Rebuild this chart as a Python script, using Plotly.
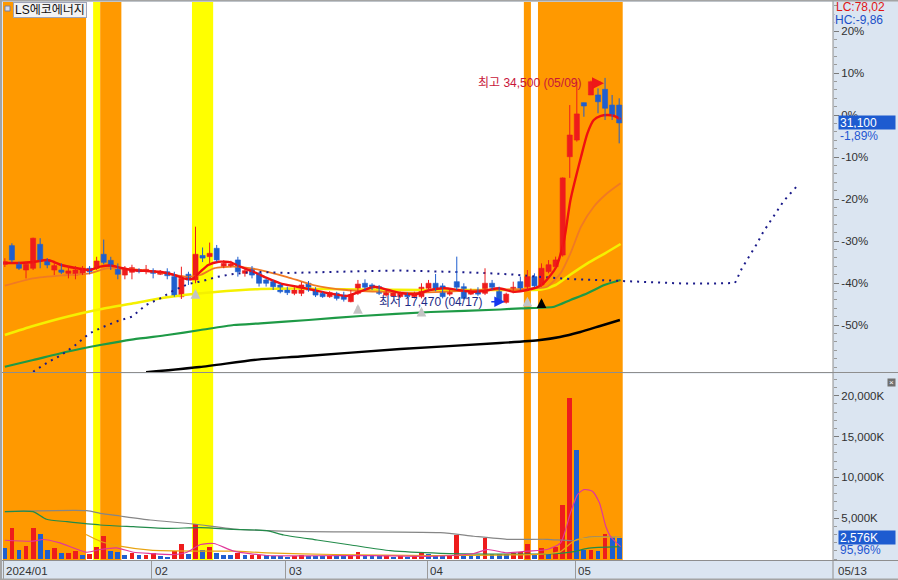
import plotly.graph_objects as go

# ---------------- data ----------------
stock_name = "LS에코에너지"
prev_close = 31700          # 0% level of the right-hand percent axis
last_close = 31100
last_volume_k = 2576
volume_ratio_text = "95,96%"
lc_text = "LC:78,02"
hc_text = "HC:-9,86"
high_price, high_day, high_date = 34500, 85, "05/09"
low_price, low_day, low_date = 17470, 71, "04/17"

month_labels = ["2024/01", "02", "03", "04", "05"]
month_start = [0, 21, 40, 60, 81]
last_date_label = "05/13"

open_ = [20430, 21840, 20430, 20000, 20130, 21940, 20760, 20000, 20000, 19750,
         19620, 19680, 20130, 20130, 21190, 20730, 20130, 19620, 19830, 20030,
         19900, 19950, 19680, 19870, 19500, 17980, 19680, 19250, 21100, 21010,
         21640, 20250, 20300, 20760, 19750, 20130, 19750, 19250, 19120, 18870,
         18540, 18240, 18240, 19000, 18540, 18240, 17990, 18240, 18110, 17610,
         18240, 19000, 18870, 18740, 18110, 18040, 17990, 18180, 17990, 17990,
         18620, 19000, 18800, 18180, 19120, 18740, 18180, 18490, 18240, 19000,
         18540, 17560, 18360, 19120, 18740, 19500, 18870, 19880, 20250, 21130,
         28550, 29810, 32630, 33210, 33210, 33640, 32450, 32450]
high = [20890, 22020, 20630, 20630, 22440, 22400, 20900, 20580, 20500, 20300,
        20300, 20300, 20300, 21000, 22300, 21000, 20500, 20300, 20400, 20130,
        20380, 20130, 20000, 20130, 19870, 20250, 19870, 23270, 21700, 22070,
        21890, 20750, 20700, 21000, 20130, 20300, 19870, 19370, 19250, 19000,
        18740, 18700, 19100, 19170, 18700, 18360, 18400, 18360, 18360, 18490,
        19250, 19300, 19000, 18870, 18490, 18400, 18360, 18300, 18360, 19000,
        19250, 19700, 19000, 18600, 21010, 19000, 18600, 18700, 20130, 19250,
        18740, 18290, 19120, 19500, 20000, 19750, 20500, 20750, 21010, 26990,
        32450, 34210, 32630, 34300, 33710, 34500, 33210, 32960]
low = [20230, 20580, 20000, 19370, 20000, 20130, 20130, 19620, 19700, 19370,
       19300, 19620, 19680, 20000, 20430, 20000, 19300, 19300, 19300, 19750,
       19680, 19370, 19620, 19300, 17980, 17810, 18870, 19000, 20600, 20500,
       20630, 20130, 20200, 19500, 19500, 19370, 18750, 18750, 18490, 18240,
       18110, 18100, 18030, 18360, 17960, 17900, 17900, 17700, 17620, 17560,
       18110, 18490, 18490, 18110, 18000, 17960, 17900, 17900, 17860, 17860,
       18360, 18400, 17860, 18050, 18490, 17790, 18110, 18050, 18110, 18490,
       17560, 17470, 18240, 18490, 18490, 18700, 18740, 19750, 20130, 21010,
       26950, 29690, 31570, 33210, 31830, 31320, 31320, 29560]
close = [20630, 20760, 20130, 20430, 22400, 20760, 20380, 20330, 19830, 19930,
         20000, 20130, 19870, 20680, 20580, 20280, 19680, 20080, 20180, 19880,
         20050, 19750, 19870, 19570, 18060, 19370, 19250, 21190, 20900, 21260,
         20760, 20500, 20450, 19870, 19950, 19620, 19000, 19000, 18740, 18360,
         18290, 18490, 18870, 18490, 18110, 17990, 18290, 17860, 17790, 18110,
         18940, 18700, 18620, 18240, 18360, 18290, 18240, 17990, 18240, 18700,
         19000, 18540, 17990, 18420, 18700, 17860, 18360, 18180, 19000, 18700,
         17680, 18180, 18700, 18620, 19500, 18800, 20130, 20400, 20760, 26950,
         30190, 31780, 32380, 34210, 32700, 32210, 31700, 31100]
volume_k = [1290, 3740, 1080, 1570, 3760, 3120, 1160, 1370, 760, 780,
            1040, 550, 670, 1490, 2880, 960, 830, 550, 760, 430,
            550, 760, 340, 270, 960, 1780, 670, 4350, 1080, 1490,
            760, 550, 540, 760, 430, 440, 450, 430, 340, 330,
            270, 380, 520, 420, 400, 330, 420, 350, 330, 450,
            800, 520, 380, 340, 360, 300, 320, 280, 350, 680,
            560, 480, 400, 420, 2940, 490, 480, 400, 2530, 610,
            600, 590, 730, 820, 1840, 490, 1310, 730, 1430, 6620,
            19720, 13390, 1100, 1120, 1020, 3060, 2860, 2576]

# highlighted day ranges (start day, end day, kind)
band_start = [0, 13, 14, 27, 74, 76]
band_end = [11, 13, 16, 29, 74, 87]
band_kind = ["o", "y", "o", "y", "o", "o"]

# signal arrows (day, price at arrow tip)
sig_gray_day = [27, 50, 59, 74]
sig_gray_price = [18566, 17434, 17231, 17985]
sig_black_day = [76]
sig_black_price = [17864]

# price moving-average lines, sampled (day, price)
ma_red_x = [0, 2, 4, 6, 7, 8, 10, 12, 13.5, 15, 16.3, 18, 20, 22, 24, 25.3, 26.5, 27.7, 28.8, 30.3,
            32, 33.3, 35.2, 37, 39, 41.4, 43.7, 46, 48.4, 50.3, 52.3, 54.3, 56.3, 58.3, 60.2, 62.2,
            64.2, 66, 68, 70, 72, 74, 76, 78, 79.2, 80.1, 81.6, 82.5, 83.4, 84.4, 85.3, 86.3, 87.2]
ma_red_y = [20529, 20529, 20604, 20755, 20604, 20378, 20151, 20000, 20250, 20340, 20174, 20000,
            19925, 19872, 19623, 19374, 19321, 19872, 20378, 20627, 20582, 20250, 19872, 19419,
            18996, 18740, 18491, 18242, 18038, 18362, 18740, 18491, 18242, 18189, 18491, 18619,
            18491, 18362, 18438, 18619, 18362, 18491, 18868, 20151, 22265, 25284, 28552, 30319,
            31323, 31625, 31700, 31625, 31375]
ma_orange_x = [0, 4, 8.8, 12, 14.4, 16.3, 19.2, 22.9, 25.8, 27.7, 29.6, 32.4, 36.2, 40, 43.7, 48.4,
               53.2, 57.9, 62.6, 67.4, 72.1, 75, 76.8, 78.7, 80.1, 81.6, 83.4, 85.3, 87.2]
ma_orange_y = [18816, 19374, 19623, 19751, 20129, 20129, 20000, 19751, 19495, 19623, 20129, 20250,
               20000, 19472, 18868, 18491, 18362, 18286, 18362, 18491, 18544, 18619, 18740, 19751,
               21261, 23269, 24778, 25790, 26544]
ma_yellow_x = [0, 4, 8.8, 13.5, 18.2, 23, 26.7, 31.4, 36.2, 41, 50, 60, 70, 74, 76, 78, 80, 82.5, 85, 87.2]
ma_yellow_y = [15094, 15774, 16476, 17034, 17487, 17940, 18189, 18415, 18566, 18603, 18528, 18491,
               18491, 18491, 18528, 18868, 19623, 20506, 21261, 21963]
ma_green_x = [0, 4, 8.8, 13.5, 18.2, 23, 27.7, 32.4, 36.2, 43, 50.4, 60.3, 70.2, 73.1, 77.8, 80.1,
              82.5, 84.9, 87.2]
ma_green_y = [12701, 13207, 13834, 14339, 14770, 15094, 15472, 15849, 15977, 16226, 16528, 16830,
              17019, 17110, 17231, 17736, 18242, 18868, 19246]
ma_black_x = [20, 27.6, 36.1, 41.8, 56, 70.1, 75.8, 78.6, 81.5, 84.3, 87.1]
ma_black_y = [12279, 12679, 13260, 13471, 14037, 14490, 14717, 14943, 15321, 15774, 16226]
lead_x = [4, 6, 8, 10, 12, 14, 16, 18, 20, 22, 24, 26, 28, 30, 32, 34, 36, 40, 44, 48, 52, 56, 60,
          64, 68, 72, 76, 80, 84, 88, 92, 96, 100, 103.4, 104.4, 105.4, 106.4, 107.4, 108.4, 109.4,
          110.3, 111.3, 112.2]
lead_y = [12324, 13003, 13585, 14339, 15223, 15721, 16151, 16476, 17359, 17864, 18491, 18944, 19170,
          19472, 19676, 19797, 19849, 19774, 19827, 19849, 19925, 19962, 19925, 19849, 19774, 19661,
          19472, 19321, 19246, 19170, 19057, 18982, 18982, 19019, 20151, 20982, 21888, 22869, 23699,
          24529, 25208, 25812, 26341]

# volume moving-average lines, sampled (day, thousand shares)
vma_pink_x = [0, 4, 5.4, 7.8, 11.6, 13.5, 15.8, 18.2, 20.6, 23.9, 25.8, 27.7, 29.6, 32.4, 37.1, 44,
              52, 60.8, 66.4, 68.3, 71.1, 74, 76.8, 78.7, 80.1, 81.1, 82, 83.2, 84.2, 85.1, 85.8, 87.2]
vma_pink_y = [2300, 2180, 2390, 1980, 830, 1160, 1370, 830, 670, 550, 830, 1780, 1900, 960, 430, 400,
              420, 340, 670, 1160, 760, 960, 1160, 1980, 5660, 7900, 8510, 8300, 6880, 4020, 2730, 1510]
vma_orange_x = [11.5, 13.5, 16.3, 20.6, 27.7, 32.4, 37.1, 46.6, 60.8, 70, 76, 78.7, 80.1, 81.1, 83, 87.2]
vma_orange_y = [3000, 2180, 1570, 1080, 960, 960, 760, 550, 430, 480, 600, 900, 1900, 2400, 2600, 2700]
vma_green_x = [0, 4, 5.9, 8.8, 13.5, 18.2, 23, 27.7, 32.4, 37.1, 39.5, 44.2, 49, 54.6, 61.7, 76.8,
               80.6, 82.5, 87.2]
vma_green_y = [5800, 5800, 4865, 4571, 4167, 3958, 3762, 3836, 3640, 3468, 2941, 2328, 1716, 1017,
               700, 613, 895, 1311, 1507]
vma_gray_x = [0, 11.6, 13.5, 16.3, 20.6, 26.7, 32.4, 37.1, 43, 61.7, 66.4, 71.1, 76.8, 80.6, 82.5, 87.2]
vma_gray_y = [5800, 5920, 5600, 5270, 4780, 4290, 3677, 3468, 3346, 3223, 2790, 2414, 2414, 2243,
              2660, 2733]

pct_ticks = [20, 10, 0, -10, -20, -30, -40, -50]
vol_ticks_k = [5000, 10000, 15000, 20000]

# ---------------- layout geometry ----------------
W, H = 898, 580
ML, MR, MT, MB = 3, 65, 2, 20
PW, PH = W - ML - MR, H - MT - MB


def pxx(p):
    return (p - ML) / PW


def pxy(p):
    return (H - MB - p) / PH


X_RANGE = [-0.262, 117.28]
PRICE_RANGE = [prev_close * (1 + (115 - 372) / 420), prev_close * (1 + (115 - 2) / 420)]
VOL_RANGE = [-122.55, (559 - 373.5) * 122.55]
MAIN_DOMAIN = [pxy(372), 1.0]
VOL_DOMAIN = [0.0, pxy(373.5)]

RED, BLUE = "#ee1c1c", "#1f5fcf"
ORANGE_BAND, YELLOW_BAND = "#ff9900", "#ffff00"
PANEL = "#dbe5f1"
FONT = "Liberation Sans, Noto Sans CJK KR, sans-serif"

fig = go.Figure()

# price lines (under candles)
line_specs = [
    (ma_black_x, ma_black_y, "#000000", 2.4, None),
    (ma_green_x, ma_green_y, "#1e9a46", 2.2, None),
    (ma_yellow_x, ma_yellow_y, "#f5f000", 2.6, None),
    (ma_orange_x, ma_orange_y, "#f07a24", 1.8, None),
    (lead_x, lead_y, "#1b1b8a", 2.0, "2px,5px"),
    (ma_red_x, ma_red_y, "#f01010", 2.4, None),
]
for xs, ys, col, w, dash in line_specs:
    fig.add_trace(go.Scatter(x=xs, y=ys, mode="lines",
                             line=dict(color=col, width=w, dash=dash,
                                       shape="linear" if dash else "spline", smoothing=0.6),
                             hoverinfo="skip", xaxis="x", yaxis="y"))

# candles
n = len(close)
for is_up, col in ((True, RED), (False, BLUE)):
    ids = [i for i in range(n) if (close[i] >= open_[i]) == is_up]
    wx, wy = [], []
    for i in ids:
        wx += [i, i, None]
        wy += [low[i], high[i], None]
    fig.add_trace(go.Scatter(x=wx, y=wy, mode="lines", line=dict(color=col, width=1),
                             hoverinfo="skip", xaxis="x", yaxis="y"))
    fig.add_trace(go.Bar(x=ids, y=[abs(close[i] - open_[i]) for i in ids],
                         base=[min(close[i], open_[i]) for i in ids], width=0.72,
                         marker=dict(color=col, line=dict(color=col, width=0.6)),
                         hoverinfo="skip", xaxis="x", yaxis="y"))

# volume bars, colour by change of volume versus previous day
vcol = [BLUE] + [RED if volume_k[i] >= volume_k[i - 1] else BLUE for i in range(1, n)]
fig.add_trace(go.Bar(x=list(range(n)), y=volume_k, width=0.68, marker=dict(color=vcol, line=dict(width=0)),
                     hoverinfo="skip", xaxis="x", yaxis="y2"))
for xs, ys, col, w in [(vma_gray_x, vma_gray_y, "#868686", 1.2),
                       (vma_green_x, vma_green_y, "#228b4a", 1.2),
                       (vma_orange_x, vma_orange_y, "#e8a412", 1.2),
                       (vma_pink_x, vma_pink_y, "#e0389a", 1.2)]:
    fig.add_trace(go.Scatter(x=xs, y=ys, mode="lines",
                             line=dict(color=col, width=w, shape="spline", smoothing=0.6),
                             hoverinfo="skip", xaxis="x", yaxis="y2"))

# ---------------- shapes ----------------
shapes = []
for s, e, k in zip(band_start, band_end, band_kind):
    shapes.append(dict(type="rect", xref="x", yref="paper", x0=max(s - 0.5, X_RANGE[0]), x1=e + 0.5,
                       y0=0, y1=1, fillcolor=ORANGE_BAND if k == "o" else YELLOW_BAND,
                       line=dict(width=0), layer="below"))
gray = "#8e8e8e"
shapes += [
    dict(type="line", xref="paper", yref="paper", x0=pxx(0), x1=pxx(W), y0=pxy(372.5), y1=pxy(372.5),
         line=dict(color=gray, width=1)),
    dict(type="line", xref="paper", yref="paper", x0=pxx(0), x1=pxx(W), y0=pxy(560.5), y1=pxy(560.5),
         line=dict(color=gray, width=1)),
    dict(type="line", xref="paper", yref="paper", x0=1, x1=1, y0=pxy(0), y1=pxy(H),
         line=dict(color=gray, width=1)),
    dict(type="rect", xref="paper", yref="paper", x0=pxx(0), x1=pxx(2), y0=pxy(0), y1=pxy(H),
         fillcolor="#a4a4a4", line=dict(width=0)),
    dict(type="rect", xref="paper", yref="paper", x0=pxx(0), x1=pxx(W), y0=pxy(0), y1=pxy(1.5),
         fillcolor="#a4a4a4", line=dict(width=0)),
    dict(type="rect", xref="paper", yref="paper", x0=pxx(0), x1=pxx(W), y0=pxy(578.5), y1=pxy(H),
         fillcolor="#a4a4a4", line=dict(width=0)),
    dict(type="rect", xref="paper", yref="paper", x0=pxx(5), x1=pxx(10), y0=pxy(11), y1=pxy(6),
         fillcolor="#d6dcec", line=dict(color="#7a809a", width=1)),
]

# ---------------- annotations ----------------
ann = []
ann.append(dict(xref="paper", yref="paper", x=pxx(13), y=pxy(2), xanchor="left", yanchor="top",
                text=stock_name, showarrow=False, font=dict(size=12, color="#111111"),
                bgcolor="#f3f3f3", bordercolor="#9ea3b8", borderwidth=1, borderpad=1, height=12))
ann.append(dict(xref="paper", yref="paper", x=pxx(834), y=pxy(19.5), xanchor="left", yanchor="middle",
                text=hc_text, showarrow=False, font=dict(size=12, color="#2050c8"),
                bgcolor=PANEL, borderpad=0, height=13))
ann.append(dict(xref="paper", yref="paper", x=pxx(834), y=pxy(6.8), xanchor="left", yanchor="middle",
                text=lc_text, showarrow=False, font=dict(size=12, color="#e01414")))
chg = f"{(last_close / prev_close - 1) * 100:.2f}%".replace(".", ",")
ann.append(dict(xref="paper", yref="y", x=pxx(838), y=last_close, xanchor="left", yanchor="middle",
                text=f"{last_close:,}", showarrow=False, font=dict(size=12, color="white"),
                bgcolor="#1d5bd0", width=54, height=11, align="left", borderpad=1))
ann.append(dict(xref="paper", yref="paper", x=pxx(838), y=pxy(136), xanchor="left", yanchor="middle",
                text=chg, showarrow=False, font=dict(size=12, color="#2457d2")))
ann.append(dict(xref="paper", yref="y2", x=pxx(838), y=last_volume_k, xanchor="left", yanchor="middle",
                text=f"{last_volume_k:,}K", showarrow=False, font=dict(size=12, color="white"),
                bgcolor="#1d5bd0", width=54, height=11, align="left", borderpad=1))
ann.append(dict(xref="paper", yref="paper", x=pxx(838), y=pxy(549.5), xanchor="left", yanchor="middle",
                text=volume_ratio_text, showarrow=False, font=dict(size=12, color="#2457d2")))
ann.append(dict(xref="paper", yref="paper", x=pxx(891.5), y=pxy(382), xanchor="center", yanchor="middle",
                text="×", showarrow=False, font=dict(size=8, color="white"), bgcolor="#707070",
                width=7, height=7, borderpad=0))
# high / low labels
ann.append(dict(xref="x", yref="y", x=high_day - 3.1, y=high_price - 420, xanchor="right", yanchor="middle",
                text=f"최고 {high_price:,} ({high_date})", showarrow=False,
                font=dict(size=12, color="#c8163a")))
ann.append(dict(xref="x", yref="y", x=high_day - 0.15, y=high_price - 400, ax=-14, ay=0,
                showarrow=True, arrowhead=2, arrowsize=0.8, arrowwidth=3, arrowcolor="#ee1818", text=""))
ann.append(dict(xref="x", yref="y", x=low_day - 3.15, y=low_price + 150, xanchor="right", yanchor="middle",
                text=f"최저 {low_price:,} ({low_date})", showarrow=False,
                font=dict(size=12, color="#1c2a86")))
ann.append(dict(xref="x", yref="y", x=low_day - 0.2, y=low_price + 140, ax=-15, ay=0,
                showarrow=True, arrowhead=2, arrowsize=1.5, arrowwidth=1.4, arrowcolor="#1638f0", text=""))
for d, p in zip(sig_gray_day, sig_gray_price):
    ann.append(dict(xref="x", yref="y", x=d, y=p, ax=0, ay=10, showarrow=True, arrowhead=2,
                    arrowsize=0.65, arrowwidth=3, arrowcolor="#c4c4c4", text=""))
for d, p in zip(sig_black_day, sig_black_price):
    ann.append(dict(xref="x", yref="y", x=d, y=p, ax=0, ay=10, showarrow=True, arrowhead=2,
                    arrowsize=0.65, arrowwidth=3, arrowcolor="#000000", text=""))
# bottom date strip
for lab, s in zip(month_labels, month_start):
    ann.append(dict(xref="x", yref="paper", x=s - 0.2, y=pxy(570.5), xanchor="left", yanchor="middle",
                    xshift=1, text=lab, showarrow=False, font=dict(size=11.5, color="#333333")))
ann.append(dict(xref="paper", yref="paper", x=pxx(836), y=pxy(570.5), xanchor="left", yanchor="middle",
                text=last_date_label, showarrow=False, font=dict(size=11.5, color="#333333")))

tickfont = dict(size=11.5, color="#303030", family=FONT)
fig.update_layout(
    width=W, height=H, margin=dict(l=ML, r=MR, t=MT, b=MB, autoexpand=False),
    paper_bgcolor=PANEL, plot_bgcolor="#ffffff", showlegend=False, hovermode=False,
    barmode="overlay", bargap=0, font=dict(family=FONT),
    xaxis=dict(domain=[0, 1], range=X_RANGE, anchor="y2", showticklabels=False, showgrid=False,
               zeroline=False, showline=False, ticks="outside", ticklen=18, tickcolor="#9a9a9a",
               tickvals=[s - 0.2 for s in month_start], fixedrange=True),
    yaxis=dict(domain=MAIN_DOMAIN, range=PRICE_RANGE, side="right", anchor="x",
               tickvals=[prev_close * (1 + p / 100) for p in pct_ticks],
               ticktext=[f"{p}%" for p in pct_ticks], ticks="outside", ticklen=5, tickcolor="#7a7a7a",
               tickfont=tickfont, showgrid=False, zeroline=False, showline=False, fixedrange=True,
               minor=dict(tick0=prev_close, dtick=prev_close * 0.02, ticks="outside", ticklen=3,
                          tickcolor="#9a9a9a")),
    yaxis2=dict(domain=VOL_DOMAIN, range=VOL_RANGE, side="right", anchor="x",
                tickvals=vol_ticks_k, ticktext=[f"{v:,}K" for v in vol_ticks_k],
                ticks="outside", ticklen=5, tickcolor="#7a7a7a", tickfont=tickfont,
                showgrid=False, zeroline=False, showline=False, fixedrange=True,
                minor=dict(tick0=0, dtick=1000, ticks="outside", ticklen=3, tickcolor="#9a9a9a")),
    shapes=shapes, annotations=ann,
)

fig.write_html("out.html", config={"displayModeBar": False, "staticPlot": True},
               post_script="document.body.style.margin='0px';document.body.style.padding='0px';")
